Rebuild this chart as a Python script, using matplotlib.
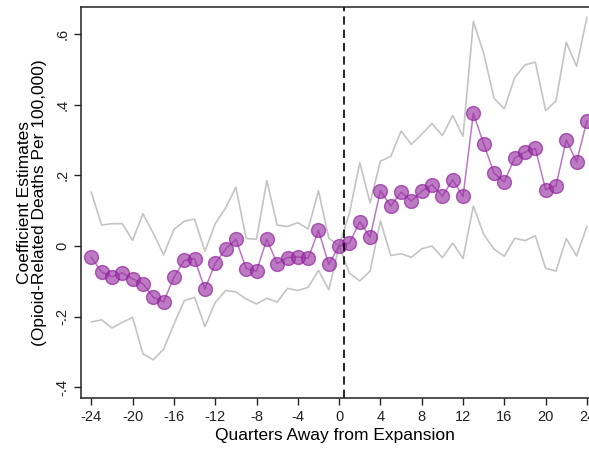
import matplotlib
matplotlib.use("Agg")
import matplotlib.pyplot as plt
import numpy as np

plt.rcParams['font.family'] = ['Liberation Sans', 'DejaVu Sans']
plt.rcParams['axes.unicode_minus'] = False

# kvartaler fra utvidelsen
kvartal = np.arange(-24, 25)

# koeffisienter (lest av bildet)
koef = [-0.032, -0.074, -0.087, -0.076, -0.093, -0.107, -0.145, -0.158,
        -0.089, -0.041, -0.036, -0.122, -0.049, -0.009, 0.019, -0.064,
        -0.071, 0.019, -0.050, -0.033, -0.031, -0.035, 0.044, -0.052,
        0.0,
        0.008, 0.069, 0.025, 0.156, 0.113, 0.152, 0.127, 0.155, 0.173,
        0.141, 0.187, 0.140, 0.375, 0.289, 0.206, 0.181, 0.249, 0.265,
        0.276, 0.159, 0.170, 0.300, 0.238, 0.354]

# konfidensintervall, øvre
ovre = [0.152, 0.059, 0.063, 0.063, 0.016, 0.091, 0.036, -0.025,
        0.047, 0.070, 0.076, -0.015, 0.063, 0.107, 0.166, 0.021,
        0.019, 0.185, 0.059, 0.055, 0.066, 0.048, 0.156, 0.022,
        0.0,
        0.093, 0.236, 0.122, 0.240, 0.253, 0.325, 0.287, 0.316, 0.346,
        0.312, 0.369, 0.310, 0.635, 0.545, 0.418, 0.388, 0.476, 0.512,
        0.520, 0.383, 0.410, 0.576, 0.508, 0.646]

# konfidensintervall, nedre
nedre = [-0.215, -0.209, -0.232, -0.216, -0.202, -0.305, -0.322, -0.292,
         -0.221, -0.155, -0.145, -0.228, -0.160, -0.126, -0.130, -0.150,
         -0.164, -0.148, -0.159, -0.120, -0.126, -0.117, -0.069, -0.124,
         0.0,
         -0.077, -0.099, -0.071, 0.071, -0.027, -0.022, -0.032, -0.008, 0.0,
         -0.033, 0.008, -0.035, 0.113, 0.033, -0.009, -0.029, 0.022, 0.015,
         0.029, -0.063, -0.071, 0.021, -0.028, 0.055]

xticks = list(range(-24, 25, 4))
yticks = [-0.4, -0.2, 0, 0.2, 0.4, 0.6]
ytick_tekst = ["-.4", "-.2", "0", ".2", ".4", ".6"]

fig = plt.figure(figsize=(5.89, 4.54), dpi=100)
ax = fig.add_axes([81/589, 56/454, 508/589, 390.7/454])

ax.plot(kvartal, ovre, color="#c4c4c4", linewidth=1.2)
ax.plot(kvartal, nedre, color="#c4c4c4", linewidth=1.2)
ax.plot(kvartal, koef, color="#9a2fa3", alpha=0.65, linewidth=1.1,
        marker="o", markersize=10, markerfacecolor=(0.6, 0.2, 0.64, 0.58),
        markeredgecolor=(0.55, 0.1, 0.6, 0.85), markeredgewidth=1.0)
ax.axvline(0.5, color="black", linestyle=(0, (5, 3)), linewidth=1.2)

ax.set_xlim(-25, 24.2)
ax.set_ylim(-0.43, 0.675)
ax.set_xticks(xticks)
ax.set_xticklabels([str(t) for t in xticks])
ax.set_yticks(yticks)
ax.set_yticklabels(ytick_tekst, rotation=90, va="center")
ax.tick_params(axis="both", labelsize=10.5, length=5, width=1, colors="#222222")
ax.spines["right"].set_visible(False)
for s in ["left", "bottom", "top"]:
    ax.spines[s].set_linewidth(1.1)
    ax.spines[s].set_color("#222222")

ax.set_xlabel("Quarters Away from Expansion", fontsize=12.5, labelpad=3)
ax.set_ylabel("Coefficient Estimates\n(Opioid-Related Deaths Per 100,000)",
              fontsize=12.5, labelpad=6, linespacing=1.0)

fig.savefig("out.png", dpi=100)
